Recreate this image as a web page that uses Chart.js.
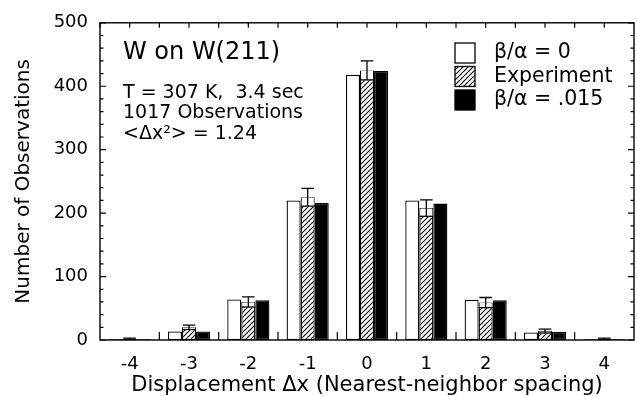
<!DOCTYPE html>
<html><head><meta charset="utf-8">
<script src="https://cdn.jsdelivr.net/npm/chart.js@4"></script>
<style>html,body{margin:0;padding:0;background:#fff}</style>
</head><body>
<canvas id="c" width="637" height="396"></canvas>
<script>
const categories = ['-4','-3','-2','-1','0','1','2','3','4'];
const seriesNames = ['β/α = 0','Experiment','β/α = .015'];
const zeroModel = [1, 13.5, 64, 220, 418, 220, 63.5, 12, 1];
const experiment = [2, 20, 60, 225, 425, 208, 59, 14, 2];
const experimentErr = [1, 3.5, 8, 14, 15, 13, 8, 3, 1];
const fitModel = [1, 13.5, 62.5, 216, 424, 215, 62.5, 12.5, 1];
const titleText = 'W on W(211)';
const annotationLines = ['T = 307 K,  3.4 sec','1017 Observations','<Δx²> = 1.24'];
const xTitle = 'Displacement Δx (Nearest-neighbor spacing)';
const yTitle = 'Number of Observations';

const FONT = '"DejaVu Sans", sans-serif';

function hatch(){
  const s = 5;
  const c = document.createElement('canvas'); c.width = s; c.height = s;
  const g = c.getContext('2d');
  g.fillStyle = '#fff'; g.fillRect(0,0,s,s);
  g.strokeStyle = '#000'; g.lineWidth = 1.1;
  g.beginPath();
  g.moveTo(0,s); g.lineTo(s,0);
  g.moveTo(-1,1); g.lineTo(1,-1);
  g.moveTo(s-1,s+1); g.lineTo(s+1,s-1);
  g.stroke();
  return g.createPattern(c,'repeat');
}
const hatchFill = hatch();

const decor = {
  id: 'decor',
  afterDatasetsDraw(chart){
    const ctx = chart.ctx, y = chart.scales.y;
    const meta = chart.getDatasetMeta(1);
    ctx.save();
    ctx.strokeStyle = '#000'; ctx.lineWidth = 1.3;
    meta.data.forEach((el, i) => {
      const v = experiment[i], e = experimentErr[i];
      const yHi = y.getPixelForValue(v + e), yLo = y.getPixelForValue(v - e);
      const cx = el.x, w = el.width;
      if (yLo > el.y + 1) {
        ctx.fillStyle = '#fff';
        ctx.fillRect(cx - w/2 + 1, el.y + 0.5, w - 2, yLo - el.y);
        ctx.beginPath(); ctx.moveTo(cx - w/2, yLo); ctx.lineTo(cx + w/2, yLo); ctx.stroke();
      }
      ctx.beginPath();
      ctx.moveTo(cx, yHi); ctx.lineTo(cx, yLo);
      ctx.moveTo(cx - w*0.45, yHi); ctx.lineTo(cx + w*0.45, yHi);
      ctx.stroke();
    });
    ctx.restore();
  },
  afterDraw(chart){
    const ctx = chart.ctx, a = chart.chartArea, x = chart.scales.x, y = chart.scales.y;
    ctx.save();
    ctx.strokeStyle = '#000'; ctx.lineWidth = 1.4;
    ctx.strokeRect(a.left, a.top, a.right - a.left, a.bottom - a.top);
    ctx.lineWidth = 1.2;
    ctx.beginPath();
    for (let v = 0; v <= 500; v += 20) {
      const py = y.getPixelForValue(v);
      const len = v % 100 === 0 ? 6 : 3.5;
      ctx.moveTo(a.left, py); ctx.lineTo(a.left + len, py);
      ctx.moveTo(a.right, py); ctx.lineTo(a.right - len, py);
    }
    const step = (a.right - a.left) / categories.length;
    for (let i = 0; i < categories.length; i++) {
      const c = x.getPixelForValue(i);
      ctx.moveTo(c, a.top); ctx.lineTo(c, a.top + 5);
      ctx.moveTo(c - step/2, a.top); ctx.lineTo(c - step/2, a.top + 5);
      if (i > 0) { ctx.moveTo(c - step/2, a.bottom); ctx.lineTo(c - step/2, a.bottom - 8); }
    }
    ctx.stroke();

    ctx.fillStyle = '#000';
    ctx.textBaseline = 'middle'; ctx.textAlign = 'left';
    ctx.font = '24px ' + FONT;
    ctx.fillText(titleText, 123, 53);
    ctx.font = '19px ' + FONT;
    const ly = [93, 113.5, 134];
    annotationLines.forEach((t, i) => ctx.fillText(t, 123, ly[i]));

    ctx.font = '20.5px ' + FONT;
    ctx.lineWidth = 1.3;
    chart.data.datasets.forEach((ds, i) => {
      const by = 43 + i * 23.5;
      ctx.fillStyle = ds.backgroundColor;
      ctx.fillRect(455, by, 20, 20);
      ctx.strokeRect(455, by, 20, 20);
      ctx.fillStyle = '#000';
      ctx.fillText(ds.label, 494, by + 10);
    });
    ctx.restore();
  }
};

new Chart(document.getElementById('c'), {
  type: 'bar',
  data: {
    labels: categories,
    datasets: [
      { label: seriesNames[0], data: zeroModel, backgroundColor: '#fff' },
      { label: seriesNames[1], data: experiment, backgroundColor: hatchFill },
      { label: seriesNames[2], data: fitModel, backgroundColor: '#000' }
    ]
  },
  options: {
    responsive: false,
    animation: false,
    layout: { padding: { top: 20, right: 3, left: 0, bottom: 0 } },
    datasets: { bar: { borderColor: '#000', borderWidth: 1.3, borderSkipped: false, categoryPercentage: 0.71, barPercentage: 1.0 } },
    plugins: { legend: { display: false }, tooltip: { enabled: false } },
    scales: {
      x: {
        grid: { display: false, drawTicks: false },
        border: { display: false },
        ticks: { color: '#000', font: { family: FONT, size: 18 }, padding: 14 },
        title: { display: true, text: xTitle, color: '#000', font: { family: FONT, size: 21, lineHeight: 1.0 }, padding: { top: 0, bottom: 0 } },
        afterFit(s){ s.height = 56; }
      },
      y: {
        min: 0, max: 500,
        grid: { display: false, drawTicks: false },
        border: { display: false },
        ticks: { stepSize: 100, color: '#000', font: { family: FONT, size: 18 }, padding: 12 },
        title: { display: true, text: yTitle, color: '#000', font: { family: FONT, size: 20, lineHeight: 1.2 }, padding: { top: 12, bottom: 0 } },
        afterFit(s){ s.width = 100; }
      }
    }
  },
  plugins: [decor]
});
</script>
</body></html>
